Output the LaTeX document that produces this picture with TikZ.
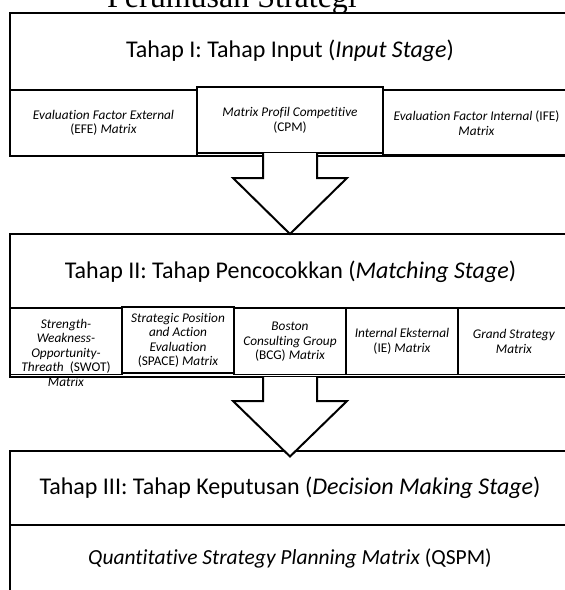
\documentclass[tikz,border=0pt]{standalone}
\usepackage{fontspec}
\setmainfont{Carlito}[Ligatures=NoCommon]
\newfontfamily\titlefont{Liberation Serif}
\usetikzlibrary{calc}
\begin{document}
\begin{tikzpicture}[x=1pt,y=-1pt,
  stagebox/.style={draw=black,line width=2pt,inner sep=0pt,outer sep=0pt,anchor=north west},
  subbox/.style={draw=black,line width=1.8pt,inner sep=0pt,outer sep=0pt,anchor=north west},
  hilite/.style={draw=black,fill=white,line width=2.2pt,inner sep=0pt,outer sep=0pt,anchor=north west},
  headtxt/.style={inner sep=0pt,font=\fontsize{24}{28}\selectfont},
  subtxt/.style={inner sep=0pt,align=center,font=\fontsize{13.3}{14.5}\selectfont},
  blockarrow/.style={draw=black,fill=white,line width=2pt,line join=miter}]
\useasboundingbox (0,0) rectangle (565,590);
\begin{scope}
\clip (0,0) rectangle (565,590);
% title
\node[inner sep=0pt,anchor=base,font=\titlefont\fontsize{32}{36}\selectfont] (title) at (232,7.5) {Perumusan Strategi};
% texts first (so that borders overdraw the overflowing text)
\node[subtxt] (swottxt) at (66,352.5) {\textit{Strength-}\\\textit{Weakness-}\\\textit{Opportunity-}\\\textit{Threath}\ \ (SWOT)\\\textit{Matrix}};
% stage I
\node[stagebox,minimum width=560pt,minimum height=143pt] (s1) at (10,13) {};
\draw[line width=2pt] (10,90) -- (570,90);
\node[subbox,minimum width=187pt,minimum height=66pt] (efe) at (10,90) {};
\node[subbox,minimum width=187pt,minimum height=65pt] (ife) at (383,90) {};
\node[hilite,minimum width=186pt,minimum height=66pt] (cpm) at (197,87) {};
\node[headtxt] (h1) at (290,51) {Tahap I: Tahap Input (\textit{Input Stage})};
\node[subtxt] (efetxt) at (efe.center) {\textit{Evaluation Factor External}\\(EFE) \textit{Matrix}};
\node[subtxt] (cpmtxt) at (290,120.5) {\textit{Matrix Profil Competitive}\\(CPM)};
\node[subtxt] (ifetxt) at (476.5,123) {\textit{Evaluation Factor Internal} (IFE)\\\textit{Matrix}};
% stage II
\node[stagebox,minimum width=560pt,minimum height=143pt] (s2) at (10,234) {};
\draw[line width=2pt] (10,308) -- (570,308);
\node[subbox,minimum width=112pt,minimum height=66.5pt] (swot) at (10,308) {};
\node[subbox,minimum width=112pt,minimum height=66.5pt] (bcg) at (234,308) {};
\node[subbox,minimum width=112pt,minimum height=66.5pt] (ie) at (346,308) {};
\node[subbox,minimum width=112pt,minimum height=66.5pt] (grand) at (458,308) {};
\node[draw=black,fill=white,line width=1.4pt,inner sep=0pt,outer sep=0pt,anchor=north west,minimum width=112pt,minimum height=66pt] (space) at (122,307) {};
\node[headtxt] (h2) at (290.5,272) {Tahap II: Tahap Pencocokkan (\textit{Matching Stage})};
\node[subtxt] (spacetxt) at (178,340.5) {\textit{Strategic Position}\\\textit{and Action}\\\textit{Evaluation}\\(SPACE) \textit{Matrix}};
\node[subtxt] (bcgtxt) at (290,342) {\textit{Boston}\\\textit{Consulting Group}\\(BCG) \textit{Matrix}};
\node[subtxt] (ietxt) at (402,341.5) {\textit{Internal Eksternal}\\(IE) \textit{Matrix}};
\node[subtxt] (grandtxt) at (514,341.5) {\textit{Grand Strategy}\\\textit{Matrix}};
% stage III
\node[stagebox,minimum width=560pt,minimum height=160pt] (s3) at (10,451) {};
\draw[line width=2pt] (10,525) -- (570,525);
\node[headtxt] (h3) at (290,488) {Tahap III: Tahap Keputusan (\textit{Decision Making Stage})};
\node[inner sep=0pt,font=\fontsize{21.5}{26}\selectfont] (qspm) at (290,558) {\textit{Quantitative Strategy Planning Matrix} (QSPM)};
% block arrows
\draw[blockarrow] ($(cpm.south)+(-27,0)$) -- ++(0,25) -- ++(-30,0) -- (s2.north) -- ($(cpm.south)+(57,25)$) -- ++(-30,0) -- ($(cpm.south)+(27,0)$);
\draw[blockarrow] ($(s2.south)+(-27,0)$) -- ++(0,24) -- ++(-30,0) -- ($(s3.north)+(0,5.5)$) -- ($(s2.south)+(57,24)$) -- ++(-30,0) -- ($(s2.south)+(27,0)$);
\end{scope}
\end{tikzpicture}
\end{document}
